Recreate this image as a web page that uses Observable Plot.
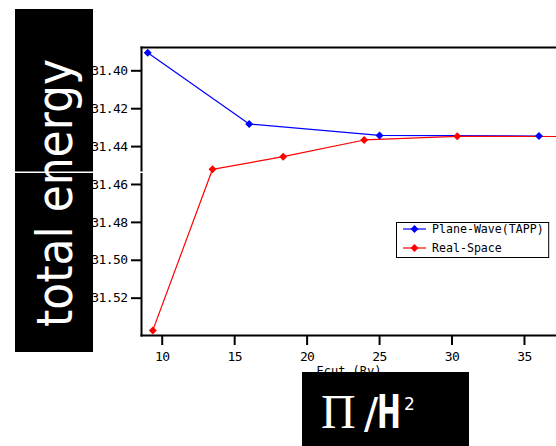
<!DOCTYPE html>
<html>
<head>
<meta charset="utf-8">
<script src="https://cdn.jsdelivr.net/npm/d3@7"></script>
<script src="https://cdn.jsdelivr.net/npm/@observablehq/plot@0.6"></script>
<style>
  html, body { margin: 0; padding: 0; background: #fff; }
  #wrap { position: relative; width: 556px; height: 446px; overflow: hidden; }
  #overlay { position: absolute; left: 0; top: 0; pointer-events: none; }
  #wrap > svg g[aria-label$="tick label"] text { letter-spacing: -0.6px; }
</style>
</head>
<body>
<div id="wrap"></div>
<script>
// ---- data ----
const seriesNames = ["Plane-Wave(TAPP)", "Real-Space"];
const seriesColors = ["#0000ff", "#ff0000"];
const pwEcut = [9, 16, 25, 36];
const pwEnergy = [-31.3905, -31.4281, -31.4341, -31.4344];
const rsEcut = [9.35, 13.47, 18.35, 23.94, 30.36, 40.0];
const rsEnergy = [-31.5370, -31.4520, -31.4453, -31.4365, -31.4346, -31.4347];
const xTicks = [10, 15, 20, 25, 30, 35];
const yTicks = [-31.40, -31.42, -31.44, -31.46, -31.48, -31.50, -31.52];
const xLabel = "Ecut (Ry)";
const yTitle = "total energy";

const pw = pwEcut.map((x, i) => ({x, y: pwEnergy[i]}));
const rs = rsEcut.map((x, i) => ({x, y: rsEnergy[i]}));

const plot = Plot.plot({
  width: 556,
  height: 446,
  marginLeft: 141,
  marginTop: 47,
  marginBottom: 111,
  marginRight: 0,
  x: {domain: [8.57, 37.21]},
  y: {domain: [-31.5397, -31.3877]},
  style: {fontFamily: "DejaVu Sans Mono", fontSize: "13px", background: "#fff", color: "#000", overflow: "hidden"},
  marks: [
    Plot.frame({anchor: "top", stroke: "#000", strokeWidth: 2}),
    Plot.frame({anchor: "left", stroke: "#000", strokeWidth: 2}),
    Plot.frame({anchor: "bottom", stroke: "#000", strokeWidth: 2}),
    Plot.axisY({ticks: yTicks, tickSize: 10, tickPadding: 4, strokeWidth: 2, label: null,
      tickFormat: d3.format(".2f")}),
    Plot.axisX({ticks: xTicks, tickSize: 10, tickPadding: 6, strokeWidth: 2, label: null}),
    Plot.line(pw, {x: "x", y: "y", stroke: seriesColors[0], strokeWidth: 1.2, clip: true}),
    Plot.line(rs, {x: "x", y: "y", stroke: seriesColors[1], strokeWidth: 1.2, clip: true}),
    Plot.dot(pw, {x: "x", y: "y", symbol: "diamond2", r: 3.6, fill: seriesColors[0], stroke: "none", clip: true}),
    Plot.dot(rs, {x: "x", y: "y", symbol: "diamond2", r: 3.6, fill: seriesColors[1], stroke: "none", clip: true}),
    Plot.text([xLabel], {text: d => d, frameAnchor: "bottom", dy: 31, lineAnchor: "top", fontSize: 12})
  ]
});
const wrap = document.getElementById("wrap");
wrap.appendChild(plot);

// ---- overlay: legend and black title boxes ----
const ov = d3.select(wrap).append("svg")
  .attr("id", "overlay").attr("width", 556).attr("height", 446);

// legend
const lg = ov.append("g");
const lgBox = lg.append("rect").attr("x", 396.5).attr("y", 222.5).attr("height", 35)
  .attr("fill", "#fff").attr("stroke", "#000").attr("stroke-width", 1);
let maxW = 0;
seriesNames.forEach((name, i) => {
  const cy = 229 + i * 19;
  lg.append("line").attr("x1", 403).attr("x2", 426).attr("y1", cy).attr("y2", cy)
    .attr("stroke", seriesColors[i]).attr("stroke-width", 1.2);
  lg.append("path").attr("d", d3.symbol(d3.symbolDiamond2, 40)())
    .attr("transform", `translate(414.5,${cy})`).attr("fill", seriesColors[i]);
  const t = lg.append("text").attr("x", 432).attr("y", cy + 4)
    .attr("font-family", "DejaVu Sans Mono").attr("font-size", 11.6)
    .attr("fill", "#000").text(name);
  maxW = Math.max(maxW, t.node().getComputedTextLength());
});
lgBox.attr("width", 432 + maxW + 5 - 396.5);

// left black box with rotated title
ov.append("rect").attr("x", 15).attr("y", 9).attr("width", 78).attr("height", 343).attr("fill", "#000");
ov.append("rect").attr("x", 0).attr("y", 171.5).attr("width", 143).attr("height", 1.5).attr("fill", "#fff");
ov.append("text")
  .attr("transform", "translate(72,193) rotate(-90)")
  .attr("text-anchor", "middle")
  .attr("font-family", "DejaVu Sans").attr("font-size", 50)
  .attr("textLength", 268).attr("lengthAdjust", "spacingAndGlyphs")
  .attr("fill", "#fff").text(yTitle);

// bottom black box with formula
ov.append("rect").attr("x", 302).attr("y", 372).attr("width", 167).attr("height", 74).attr("fill", "#000");
const f = ov.append("text").attr("y", 428).attr("fill", "#fff");
f.append("tspan").attr("x", 321).attr("font-family", "Liberation Serif").attr("font-size", 48).text("Π");
f.append("tspan").attr("x", 364).attr("font-family", "DejaVu Sans").attr("font-size", 42).text("/");
ov.append("text").attr("transform", "translate(377,428) scale(0.62,1)")
  .attr("font-family", "DejaVu Sans").attr("font-size", 46).attr("font-weight", "bold")
  .attr("fill", "#fff").text("H");
ov.append("text").attr("x", 404).attr("y", 410).attr("font-family", "DejaVu Sans")
  .attr("font-size", 17).attr("fill", "#fff").text("2");
</script>
</body>
</html>
